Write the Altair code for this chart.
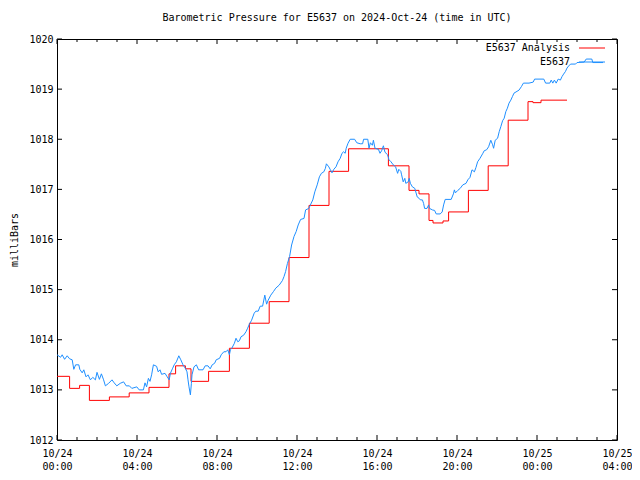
import altair as alt
import pandas as pd

# ---- data (hours since 2024-10-24 00:00 UTC, pressure in mb) ----
obs_hours = [
    0.00, 0.18, 0.26, 0.38, 0.51, 0.63, 0.76, 0.84, 0.93, 1.09,
    1.14, 1.26, 1.34, 1.45, 1.55, 1.67, 1.79, 1.92, 2.00, 2.12,
    2.22, 2.33, 2.42, 2.58, 2.75, 2.86, 2.99, 3.16, 3.33, 3.46,
    3.62, 3.74, 3.99, 4.11, 4.32, 4.40, 4.48, 4.57, 4.65, 4.73,
    4.82, 4.98, 5.06, 5.15, 5.23, 5.40, 5.51, 5.61, 5.67, 5.77,
    5.86, 5.97, 6.09, 6.19, 6.30, 6.42, 6.50, 6.55, 6.60, 6.67,
    6.72, 6.75, 6.85, 6.97, 7.08, 7.30, 7.41, 7.55, 7.66, 7.76,
    7.88, 7.96, 8.13, 8.21, 8.34, 8.45, 8.54, 8.62, 8.67, 8.74,
    8.87, 8.95, 9.04, 9.12, 9.20, 9.33, 9.45, 9.53, 9.62, 9.73,
    9.86, 9.94, 10.06, 10.16, 10.28, 10.39, 10.48, 10.56, 10.69, 10.82,
    10.94, 11.11, 11.27, 11.35, 11.43, 11.52, 11.63, 11.73, 11.85, 11.96,
    12.06, 12.18, 12.35, 12.43, 12.59, 12.67, 12.79, 12.89, 13.01, 13.12,
    13.22, 13.34, 13.42, 13.47, 13.59, 13.67, 13.75, 13.84, 13.95, 14.05,
    14.16, 14.25, 14.33, 14.41, 14.46, 14.55, 14.66, 14.88, 14.99, 15.16,
    15.28, 15.33, 15.54, 15.60, 15.67, 15.77, 15.82, 15.90, 16.07, 16.15,
    16.23, 16.32, 16.40, 16.53, 16.60, 16.70, 16.81, 16.93, 17.03, 17.09,
    17.19, 17.23, 17.31, 17.39, 17.44, 17.56, 17.61, 17.67, 17.77, 17.89,
    18.01, 18.11, 18.17, 18.27, 18.33, 18.38, 18.50, 18.58, 18.63, 18.77,
    18.88, 18.96, 19.16, 19.26, 19.33, 19.41, 19.71, 19.82, 19.87, 19.92,
    20.04, 20.16, 20.29, 20.45, 20.54, 20.65, 20.75, 20.87, 20.95, 21.03,
    21.15, 21.28, 21.36, 21.48, 21.58, 21.69, 21.78, 21.83, 21.91, 22.03,
    22.11, 22.19, 22.28, 22.36, 22.44, 22.52, 22.60, 22.69, 22.77, 22.85,
    23.10, 23.22, 23.32, 23.60, 23.81, 23.88, 24.34, 24.43, 24.64, 24.71,
    24.79, 24.87, 24.96, 25.06, 25.17, 25.25, 25.33, 25.42, 25.50, 25.58,
    25.68, 25.93, 26.00, 26.36, 26.46, 26.74, 26.79, 27.30,
]
obs_mb = [
    1013.70, 1013.65, 1013.70, 1013.61, 1013.68, 1013.62, 1013.60, 1013.41, 1013.50, 1013.50,
    1013.41, 1013.34, 1013.40, 1013.26, 1013.30, 1013.20, 1013.25, 1013.20, 1013.35, 1013.21,
    1013.32, 1013.20, 1013.08, 1013.13, 1013.20, 1013.14, 1013.08, 1013.13, 1013.16, 1013.08,
    1013.08, 1013.03, 1013.06, 1013.00, 1013.00, 1013.14, 1013.06, 1013.23, 1013.17, 1013.30,
    1013.50, 1013.47, 1013.36, 1013.40, 1013.31, 1013.33, 1013.26, 1013.20, 1013.33, 1013.42,
    1013.50, 1013.56, 1013.68, 1013.60, 1013.50, 1013.43, 1013.36, 1013.20, 1013.06, 1012.90,
    1013.13, 1013.30, 1013.46, 1013.50, 1013.40, 1013.40, 1013.48, 1013.48, 1013.42, 1013.50,
    1013.53, 1013.60, 1013.63, 1013.70, 1013.76, 1013.76, 1013.80, 1013.70, 1013.80, 1013.83,
    1013.93, 1014.03, 1013.96, 1013.98, 1014.06, 1014.09, 1014.16, 1014.23, 1014.31, 1014.39,
    1014.53, 1014.57, 1014.57, 1014.67, 1014.67, 1014.89, 1014.71, 1014.79, 1014.89, 1014.96,
    1015.03, 1015.09, 1015.18, 1015.26, 1015.36, 1015.52, 1015.66, 1015.89, 1016.06, 1016.16,
    1016.29, 1016.40, 1016.42, 1016.59, 1016.62, 1016.69, 1016.79, 1016.95, 1017.09, 1017.25,
    1017.32, 1017.35, 1017.42, 1017.51, 1017.45, 1017.39, 1017.33, 1017.40, 1017.45, 1017.55,
    1017.62, 1017.72, 1017.75, 1017.72, 1017.82, 1017.92, 1018.00, 1018.00, 1017.93, 1017.91,
    1017.91, 1018.00, 1018.00, 1017.82, 1017.93, 1017.88, 1017.98, 1017.82, 1017.80, 1017.72,
    1017.77, 1017.87, 1017.74, 1017.69, 1017.59, 1017.55, 1017.49, 1017.45, 1017.32, 1017.40,
    1017.36, 1017.29, 1017.15, 1017.22, 1017.12, 1017.15, 1017.22, 1017.12, 1017.05, 1017.02,
    1016.85, 1016.82, 1016.79, 1016.79, 1016.72, 1016.62, 1016.62, 1016.69, 1016.62, 1016.59,
    1016.58, 1016.51, 1016.51, 1016.55, 1016.69, 1016.80, 1016.80, 1016.91, 1016.99, 1016.93,
    1016.98, 1017.02, 1017.09, 1017.12, 1017.19, 1017.24, 1017.39, 1017.35, 1017.44, 1017.55,
    1017.62, 1017.71, 1017.77, 1017.79, 1017.85, 1017.98, 1017.89, 1017.82, 1017.98, 1018.02,
    1018.15, 1018.25, 1018.37, 1018.42, 1018.55, 1018.62, 1018.72, 1018.78, 1018.85, 1018.92,
    1018.98, 1019.05, 1019.12, 1019.12, 1019.14, 1019.20, 1019.20, 1019.12, 1019.12, 1019.18,
    1019.12, 1019.18, 1019.12, 1019.20, 1019.18, 1019.25, 1019.30, 1019.35, 1019.42, 1019.46,
    1019.50, 1019.50, 1019.53, 1019.54, 1019.60, 1019.60, 1019.53, 1019.53,
]

ana_hours = [0.00, 0.63, 1.13, 1.62, 2.62, 3.61, 4.60, 5.60, 5.93, 6.42,
             6.70, 7.58, 8.62, 9.62, 10.61, 11.60, 12.60, 13.60, 14.58, 16.57,
             17.60, 18.10, 18.60, 18.80, 19.30, 19.58, 20.57, 21.56, 22.56, 23.55,
             23.80, 24.20, 25.50]
ana_mb = [1013.27, 1013.03, 1013.09, 1012.79, 1012.86, 1012.94, 1013.05, 1013.32, 1013.48, 1013.42,
          1013.17, 1013.37, 1013.83, 1014.33, 1014.76, 1015.64, 1016.68, 1017.36, 1017.81, 1017.47,
          1016.98, 1016.91, 1016.38, 1016.33, 1016.37, 1016.55, 1016.98, 1017.47, 1018.38, 1018.75,
          1018.73, 1018.78, 1018.78]

series = ["E5637 Analysis", "E5637"]
colors = ["#ff0000", "#1e8fff"]

major_hours = [0, 4, 8, 12, 16, 20, 24, 28]
tick_dates = ["10/24", "10/24", "10/24", "10/24", "10/24", "10/24", "10/25", "10/25"]
tick_times = ["00:00", "04:00", "08:00", "12:00", "16:00", "20:00", "00:00", "04:00"]
minor_hours = [h for h in range(0, 29) if h % 4 != 0]
y_ticks = [1012, 1013, 1014, 1015, 1016, 1017, 1018, 1019, 1020]

title_text = "Barometric Pressure for E5637 on 2024-Oct-24 (time in UTC)"
y_title = "milliBars"

assert len(obs_hours) == len(obs_mb)
assert len(ana_hours) == len(ana_mb)

# ---- layout (total svg width must stay within the 624px page body) ----
W, H = 560, 401
PAD_L, PAD_T, PAD_R, PAD_B = 49, 31, 15, 30
FONT = "DejaVu Sans Mono"
MAJ, MIN = 5, 3

obs_df = pd.DataFrame({"h": obs_hours, "mb": obs_mb, "series": series[1]})
ana_df = pd.DataFrame({"h": ana_hours, "mb": ana_mb, "series": series[0]})
major_df = pd.DataFrame({"h": major_hours})
minor_df = pd.DataFrame({"h": minor_hours})
ytick_df = pd.DataFrame({"mb": y_ticks})

x_scale = alt.Scale(domain=[0, 28], nice=False, zero=False)
y_scale = alt.Scale(domain=[1012, 1020], nice=False, zero=False)
c_scale = alt.Scale(domain=series, range=colors)

label_pairs = ",".join(f"['{d}','{t}']" for d, t in zip(tick_dates, tick_times))
label_expr = f"[{label_pairs}][round(datum.value / 4)]"

x_axis = alt.Axis(values=major_hours, labelExpr=label_expr, ticks=False, domain=False,
                  grid=False, title=None, labelFont=FONT, labelFontSize=10,
                  labelColor="black", labelPadding=8, labelLineHeight=13,
                  labelBaseline="top", labelFlush=False, labelOverlap=False)
y_axis = alt.Axis(values=y_ticks, format="d", ticks=False, domain=False, grid=False,
                  title=y_title, labelFont=FONT, labelFontSize=10, labelColor="black",
                  labelPadding=4, labelFlush=False, labelOverlap=False,
                  titleFont=FONT, titleFontSize=10, titleFontWeight="normal",
                  titleColor="black", titleAngle=270, titleX=-43, titleY=H / 2,
                  titleAlign="center", titleBaseline="middle")

X = alt.X("h:Q", scale=x_scale, axis=x_axis)
Y = alt.Y("mb:Q", scale=y_scale, axis=y_axis)

ana_line = alt.Chart(ana_df).mark_line(interpolate="step-after", strokeWidth=1).encode(
    x=X, y=Y,
    color=alt.Color("series:N", scale=c_scale, legend=None),
)
obs_line = alt.Chart(obs_df).mark_line(strokeWidth=1).encode(
    x=X, y=Y,
    color=alt.Color("series:N", scale=c_scale, legend=None),
)

def xticks(df, length):
    bottom = alt.Chart(df).mark_rule(color="black", strokeWidth=1).encode(
        x=X, y=alt.value(H), y2=alt.value(H - length))
    top = alt.Chart(df).mark_rule(color="black", strokeWidth=1).encode(
        x=X, y=alt.value(0), y2=alt.value(length))
    return [bottom, top]

yl = alt.Chart(ytick_df).mark_rule(color="black", strokeWidth=1).encode(
    y=Y, x=alt.value(0), x2=alt.value(MAJ))
yr = alt.Chart(ytick_df).mark_rule(color="black", strokeWidth=1).encode(
    y=Y, x=alt.value(W), x2=alt.value(W - MAJ))

legend_layers = []
for i, (name, col) in enumerate(zip(series, colors)):
    ldf = pd.DataFrame({"series": [name]})
    ypos = 9 + 14 * i
    legend_layers.append(alt.Chart(ldf).mark_text(
        align="right", baseline="middle", font=FONT, fontSize=10, color="black").encode(
        text="series:N", x=alt.value(W - 47), y=alt.value(ypos)))
    legend_layers.append(alt.Chart(ldf).mark_rule(color=col, strokeWidth=1).encode(
        x=alt.value(W - 38), x2=alt.value(W - 12), y=alt.value(ypos)))

layers = [ana_line, obs_line] + xticks(major_df, MAJ) + xticks(minor_df, MIN) + [yl, yr] + legend_layers

chart = alt.layer(*layers).properties(
    width=W, height=H,
    title=alt.TitleParams(title_text, font=FONT, fontSize=10, fontWeight="normal",
                          color="black", anchor="middle", frame="group", offset=11),
    padding={"left": PAD_L, "top": PAD_T, "right": PAD_R, "bottom": PAD_B},
    autosize=alt.AutoSizeParams(type="none"),
    background="white",
).configure_view(stroke="black", strokeWidth=1)

chart.save("out.html", embed_options={"renderer": "svg", "actions": False})
